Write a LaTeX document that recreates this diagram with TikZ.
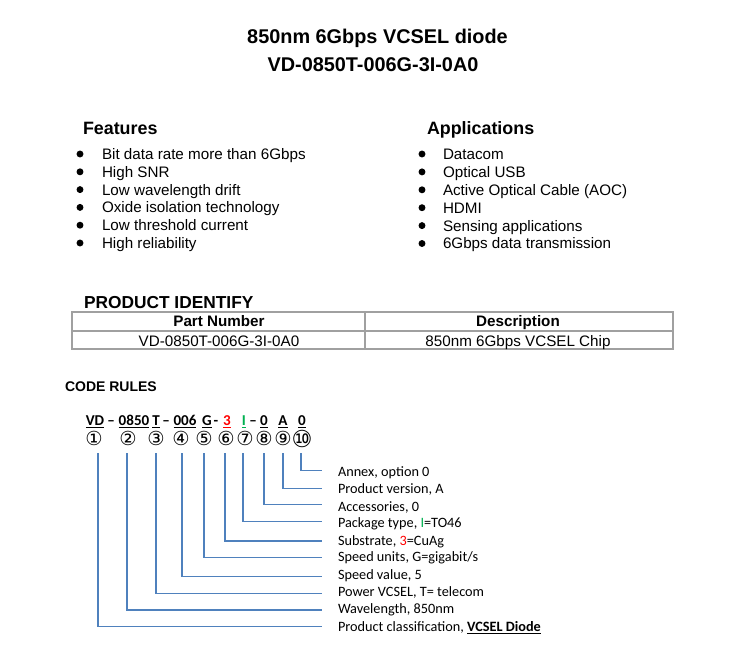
\documentclass[tikz,border=0pt]{standalone}
\usepackage{fontspec}
\setmainfont{Liberation Sans}
\newfontfamily\calfont{Carlito}
\newfontfamily\dvfont{DejaVu Sans}
\definecolor{lineblue}{RGB}{79,129,189}
\definecolor{tabgray}{RGB}{160,160,160}
\definecolor{codegreen}{RGB}{0,176,80}
\definecolor{codered}{RGB}{255,0,0}
\begin{document}
\begin{tikzpicture}[x=0.75pt,y=-0.75pt,
  every node/.style={inner sep=0pt,outer sep=0pt},
  titletxt/.style={font=\bfseries\fontsize{14.9}{18}\selectfont,anchor=base},
  headtxt/.style={font=\bfseries\fontsize{13.4}{16}\selectfont,anchor=base west},
  bodytxt/.style={font=\fontsize{11.4}{14}\selectfont,anchor=base west},
  bulletdot/.style={circle,fill=black,minimum size=5.2pt},
  tabtxt/.style={font=\fontsize{11.4}{14}\selectfont,anchor=base},
  tabhead/.style={font=\bfseries\fontsize{11.4}{14}\selectfont,anchor=base},
  tabline/.style={draw=tabgray,line width=0.9pt},
  codetxt/.style={font=\calfont\bfseries\fontsize{11.3}{13}\selectfont,anchor=base},
  circnum/.style={font=\dvfont\fontsize{14.5}{16}\selectfont},
  labtxt/.style={font=\calfont\fontsize{10.7}{13}\selectfont,anchor=base west},
  leader/.style={draw=lineblue,line width=0.8pt}]
\useasboundingbox (0,0) rectangle (749,646);

% Title
\node[titletxt] (title1) at (377.5,43) {850nm 6Gbps VCSEL diode};
\node[titletxt] (title2) at (373,71) {VD-0850T-006G-3I-0A0};

% Features / Applications
\node[headtxt] (feat) at (83,134.5) {Features};
\node[headtxt] (appl) at (427,134.5) {Applications};
\foreach \t [count=\i from 0] in {Bit data rate more than 6Gbps,High SNR,Low wavelength drift,Oxide isolation technology,Low threshold current,High reliability}{
  \node[bulletdot] (fb\i) at (80,{154+17.8*\i}) {};
  \node[bodytxt] (ft\i) at (102,{159.4+17.8*\i}) {\t};
}
\foreach \t [count=\i from 0] in {Datacom,Optical USB,Active Optical Cable (AOC),HDMI,Sensing applications,6Gbps data transmission}{
  \node[bulletdot] (ab\i) at (422,{154+17.9*\i}) {};
  \node[bodytxt] (at\i) at (443,{159.4+17.9*\i}) {\t};
}

% Product identify
\node[font=\bfseries\fontsize{13}{16}\selectfont,anchor=base west] (pid) at (84,308) {PRODUCT IDENTIFY};
\draw[tabline] (72,312) rectangle (673,349);
\draw[tabline] (72,331) -- (673,331);
\draw[tabline] (365,312) -- (365,349);
\node[tabhead] (h1) at (219,326.5) {Part Number};
\node[tabhead] (h2) at (518,326.5) {Description};
\node[tabtxt] (r1) at (219,346) {VD-0850T-006G-3I-0A0};
\node[tabtxt] (r2) at (518,346) {850nm 6Gbps VCSEL Chip};

% Code rules
\node[font=\bfseries\fontsize{10.5}{12}\selectfont,anchor=base west] (cr) at (65,391) {CODE RULES};

\node[codetxt] (k1) at (95,425) {\underline{VD}};
\node[codetxt] (d1) at (111,425) {–};
\node[codetxt] (k2) at (134,425) {\underline{0850}};
\node[codetxt] (k3) at (156,425) {\underline{T}};
\node[codetxt] (d2) at (166,425) {–};
\node[codetxt] (k4) at (185,425) {\underline{006}};
\node[codetxt] (k5) at (207,425) {\underline{G}};
\node[codetxt] (d3) at (216,425) {-};
\node[codetxt,text=codered] (k6) at (227,425) {\underline{3}};
\node[codetxt,text=codegreen] (k7) at (244,425) {\underline{I}};
\node[codetxt] (d4) at (253,425) {–};
\node[codetxt] (k8) at (264,425) {\underline{0}};
\node[codetxt] (k9) at (283,425) {\underline{A}};
\node[codetxt] (k10) at (302,425) {\underline{0}};

\foreach \n/\x in {1/94,2/128,3/156,4/181,5/204,6/226,7/245,8/264,9/283,10/302}{
  \coordinate (c\n) at (\x,438.5);
}
\node[circnum] (n1) at (c1) {①};
\node[circnum] (n2) at (c2) {②};
\node[circnum] (n3) at (c3) {③};
\node[circnum] (n4) at (c4) {④};
\node[circnum] (n5) at (c5) {⑤};
\node[circnum] (n6) at (c6) {⑥};
\node[circnum] (n7) at (c7) {⑦};
\node[circnum] (n8) at (c8) {⑧};
\node[circnum] (n9) at (c9) {⑨};
\node[circnum,font=\dvfont\fontsize{17.5}{18}\selectfont] (n10) at (c10) {⑩};

% labels and leaders (from 10 down to 1)
\foreach \n/\x/\ly/\cy/\t in {
  10/301/470.7/471.7/{Annex, option 0},
  9/283/488.3/489/{Product version, A},
  8/264/504.5/506.7/{Accessories, 0},
  7/243/521.7/523.3/{Package type, \textcolor{codegreen}{I}=TO46},
  6/225/541/540.7/{Substrate, \textcolor{codered}{3}=CuAg},
  5/204/557.3/557.3/{Speed units, G=gigabit/s},
  4/182/576.7/575/{Speed value, 5},
  3/156/593.3/591.7/{Power VCSEL, T= telecom},
  2/127/610/609/{Wavelength, 850nm},
  1/98/626.7/626.7/{Product classification, \textbf{\underline{VCSEL Diode}}}}{
  \coordinate (t\n) at (\x,453);
  \coordinate (e\n) at (322,\ly);
  \node[labtxt] (l\n) at (338,{\cy+4.6}) {\t};
  \draw[leader] (t\n) |- (e\n);
}
\end{tikzpicture}
\end{document}
